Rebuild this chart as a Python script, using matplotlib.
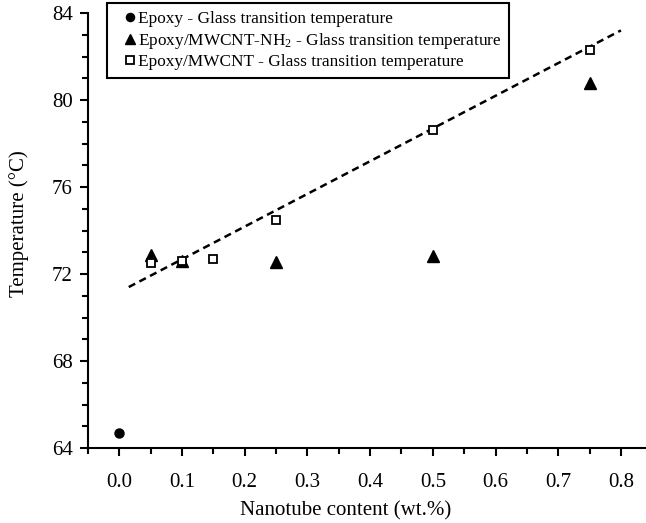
import matplotlib
matplotlib.use("Agg")
import matplotlib.pyplot as plt
from matplotlib.ticker import MultipleLocator

# nanotube content (wt.%) and glass transition temperature (C)
epoxy_x = [0.0]
epoxy_t = [64.7]

nh2_x = [0.05, 0.1, 0.25, 0.5, 0.75]
nh2_t = [72.88, 72.6, 72.53, 72.81, 80.77]

mwcnt_x = [0.05, 0.1, 0.15, 0.25, 0.5, 0.75]
mwcnt_t = [72.5, 72.61, 72.69, 74.47, 78.63, 82.3]

# dashed trend line end points
fit_x = [0.015, 0.8]
fit_t = [71.4, 83.2]

xticks = [0.0, 0.1, 0.2, 0.3, 0.4, 0.5, 0.6, 0.7, 0.8]
yticks = [64, 68, 72, 76, 80, 84]

plt.rcParams['font.family'] = ['Liberation Serif', 'DejaVu Serif']
plt.rcParams['mathtext.fontset'] = 'custom'
plt.rcParams['mathtext.rm'] = 'Liberation Serif'
plt.rcParams['mathtext.it'] = 'Liberation Serif:italic'

fig = plt.figure(figsize=(6.46, 5.23), dpi=100)
ax = fig.add_axes([88 / 646, 75 / 523, 558 / 646, 435 / 523])

ax.plot(fit_x, fit_t, color='black', lw=1.8, linestyle=(0, (2.9, 1.9)), zorder=1)
ax.plot(epoxy_x, epoxy_t, 'o', color='black', ms=6.5,
        label='Epoxy - Glass transition temperature', zorder=3)
ax.plot(nh2_x, nh2_t, '^', color='black', ms=8,
        label='Epoxy/MWCNT-NH$_2$ - Glass transition temperature', zorder=3)
ax.plot(mwcnt_x, mwcnt_t, 's', mfc='white', mec='black', mew=1.3, ms=6.3,
        label='Epoxy/MWCNT - Glass transition temperature', zorder=4)

ax.set_xlim(-0.05, 0.84)
ax.set_ylim(64, 84)
ax.set_xticks(xticks)
ax.set_xticklabels(['%.1f' % v for v in xticks])
ax.set_yticks(yticks)
ax.xaxis.set_minor_locator(MultipleLocator(0.05))
ax.yaxis.set_minor_locator(MultipleLocator(1))

for s in ['top', 'right']:
    ax.spines[s].set_visible(False)
for s in ['left', 'bottom']:
    ax.spines[s].set_linewidth(1.5)

ax.tick_params(which='major', direction='out', length=6, width=1.5, labelsize=15)
ax.tick_params(which='minor', direction='out', length=4, width=1.5)
ax.tick_params(axis='x', which='major', pad=12)
ax.tick_params(axis='y', which='major', pad=5)

ax.set_xlabel('Nanotube content (wt.%)', fontsize=15)
ax.set_ylabel('Temperature (\u00b0C)', fontsize=15)
ax.xaxis.set_label_coords(0.462, -0.122)
ax.yaxis.set_label_coords(-0.106, 0.515)

leg = ax.legend(loc='upper left', bbox_to_anchor=(0.034, 1.023), borderaxespad=0,
                fontsize=12.4, frameon=True, fancybox=False, edgecolor='black',
                handlelength=1.8, handletextpad=-0.45, borderpad=0.45,
                labelspacing=0.22, markerscale=0.9, numpoints=1)
leg.get_frame().set_linewidth(1.5)
leg.get_frame().set_alpha(1)

fig.savefig('out.png', dpi=100)
